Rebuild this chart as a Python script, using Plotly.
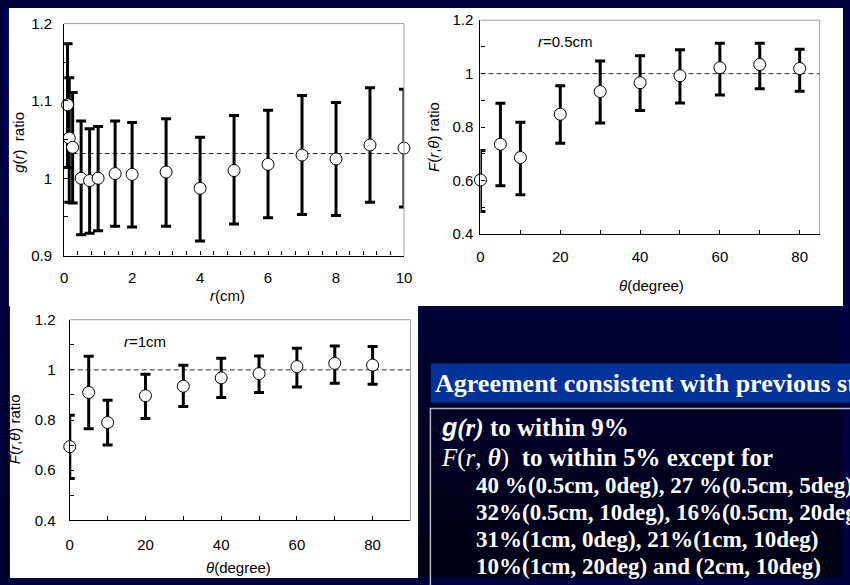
import plotly.graph_objects as go

W, H = 850, 585
def PX(x): return x / W
def PY(y): return 1 - y / H

# ---------------- data ----------------
r_cm = [0.1, 0.15, 0.25, 0.5, 0.75, 1, 1.5, 2, 3, 4, 5, 6, 7, 8, 9, 10]
g_ratio = [1.095, 1.052, 1.040, 1.000, 0.997, 1.000, 1.006, 1.005, 1.008, 0.987, 1.010, 1.018, 1.030, 1.025, 1.043, 1.039]
g_upper = [1.174, 1.130, 1.111, 1.074, 1.064, 1.067, 1.074, 1.072, 1.077, 1.053, 1.081, 1.088, 1.107, 1.098, 1.117, 1.115]
g_lower = [1.014, 0.969, 0.968, 0.927, 0.929, 0.932, 0.938, 0.937, 0.938, 0.919, 0.941, 0.949, 0.953, 0.952, 0.969, 0.963]
g_ref_x = [0.25, 10]
g_ref_y = [1.032, 1.032]

theta_deg = [0, 5, 10, 20, 30, 40, 50, 60, 70, 80]
F05 = [0.602, 0.736, 0.686, 0.848, 0.933, 0.966, 0.992, 1.022, 1.034, 1.019]
F05_upper = [0.712, 0.889, 0.818, 0.955, 1.047, 1.067, 1.089, 1.114, 1.114, 1.091]
F05_lower = [0.484, 0.580, 0.547, 0.739, 0.815, 0.862, 0.890, 0.920, 0.943, 0.934]
F05_ref_x = [0, 85]

F10 = [0.694, 0.910, 0.790, 0.897, 0.935, 0.968, 0.985, 1.013, 1.026, 1.019]
F10_upper = [0.819, 1.054, 0.879, 0.983, 1.018, 1.046, 1.055, 1.086, 1.095, 1.093]
F10_lower = [0.567, 0.765, 0.701, 0.806, 0.854, 0.890, 0.910, 0.932, 0.947, 0.943]
F10_ref_x = [0, 90]
F_ref_y = [1.0, 1.0]

x_titles = ["<i>r</i>(cm)", "<i>θ</i>(degree)", "<i>θ</i>(degree)"]
y_titles = ["<i>g</i>(<i>r</i>)  ratio", "<i>F</i>(<i>r</i>,<i>θ</i>) ratio", "<i>F</i>(<i>r</i>,<i>θ</i>) ratio"]

header = "Agreement consistent with previous studies"
lines_main = [
    "<span style=\"font-family:'Liberation Sans'\"><b><i>g</i></b></span><b><i>(r)</i> to within 9%</b>",
    "<i>F</i>(<i>r</i>, <b><i>θ</i></b>)  <b>to within 5% except for</b>",
]
lines_sub = [
    "<b>40 %(0.5cm, 0deg), 27 %(0.5cm, 5deg),</b>",
    "<b>32%(0.5cm, 10deg), 16%(0.5cm, 20deg),</b>",
    "<b>31%(1cm, 0deg), 21%(1cm, 10deg)</b>",
    "<b>10%(1cm, 20deg) and (2cm, 10deg)</b>",
]

fig = go.Figure()

def add_panel(xs, ys, up, lo, refx, refy, xa, ya):
    fig.add_trace(go.Scatter(x=refx, y=refy, mode="lines", xaxis=xa, yaxis=ya,
                             line=dict(color="#333333", width=1, dash="5px,3px"),
                             hoverinfo="skip", cliponaxis=False))
    fig.add_trace(go.Scatter(
        x=xs, y=ys, mode="markers", xaxis=xa, yaxis=ya, cliponaxis=False,
        marker=dict(symbol="circle", size=12, color="white", line=dict(color="black", width=1)),
        error_y=dict(type="data", symmetric=False,
                     array=[u - v for u, v in zip(up, ys)],
                     arrayminus=[v - l for v, l in zip(ys, lo)],
                     color="black", thickness=3, width=5)))

add_panel(r_cm, g_ratio, g_upper, g_lower, g_ref_x, g_ref_y, "x", "y")
add_panel(theta_deg, F05, F05_upper, F05_lower, F05_ref_x, F_ref_y, "x2", "y2")
add_panel(theta_deg, F10, F10_upper, F10_lower, F10_ref_x, F_ref_y, "x3", "y3")

# ---------------- background ----------------
shapes = []
nb = 40
for i in range(nb):
    t = i / (nb - 1)
    b = int(95 - 75 * t)
    shapes.append(dict(type="rect", xref="paper", yref="paper", layer="below",
                       x0=0, x1=1, y0=1 - (i + 1) / nb, y1=1 - i / nb,
                       fillcolor=f"rgb(0,0,{b})", line=dict(width=0)))
shapes.append(dict(type="rect", xref="paper", yref="paper", layer="below",
                   x0=PX(5), x1=PX(851), y0=PY(306), y1=PY(-1),
                   fillcolor="white", line=dict(width=0)))
shapes.append(dict(type="rect", xref="paper", yref="paper", layer="below",
                   x0=PX(6), x1=PX(420), y0=PY(586), y1=PY(305),
                   fillcolor="white", line=dict(width=0)))
# header bar + text box border
shapes.append(dict(type="rect", xref="paper", yref="paper", layer="below",
                   x0=PX(433), x1=PX(860), y0=PY(405.5), y1=PY(365),
                   fillcolor="rgb(0,51,153)", line=dict(width=0)))
shapes.append(dict(type="rect", xref="paper", yref="paper", layer="below",
                   x0=PX(432.5), x1=PX(870), y0=PY(600), y1=PY(411.5),
                   fillcolor="rgba(0,0,0,0)", line=dict(color="#b8b8b8", width=1.5)))
# gray top/right frame lines
for xa, ya in [("x", "y"), ("x2", "y2"), ("x3", "y3")]:
    shapes.append(dict(type="line", xref=f"{xa} domain", yref=f"{ya} domain",
                       x0=0, x1=1, y0=1, y1=1, line=dict(color="#a0a0a0", width=1)))
    shapes.append(dict(type="line", xref=f"{xa} domain", yref=f"{ya} domain",
                       x0=1, x1=1, y0=0, y1=1, line=dict(color="#a0a0a0", width=1)))

axis_common = dict(showgrid=False, zeroline=False, showline=True, linecolor="black",
                   linewidth=1.3, ticks="inside", ticklen=4, tickwidth=1, tickcolor="black",
                   tickfont=dict(size=15, color="black"), mirror=False)

fig.update_layout(
    width=W, height=H, margin=dict(l=0, r=0, t=0, b=0),
    paper_bgcolor="rgb(0,0,60)", plot_bgcolor="white", showlegend=False,
    font=dict(family="Liberation Sans, Arial, sans-serif", size=15, color="black"),
    shapes=shapes,
    xaxis=dict(axis_common, domain=[PX(61), PX(405.7)], range=[0, 10], dtick=2, tick0=0,
               ticklabelstandoff=8,
               minor=dict(dtick=0.4, tick0=0, ticks="inside", ticklen=4, tickcolor="black", showgrid=False)),
    yaxis=dict(axis_common, domain=[PY(254), PY(15)], range=[0.9, 1.2], dtick=0.1, tick0=0.9,
               ticklabelstandoff=8,
               minor=dict(dtick=0.05, tick0=0.9, ticks="inside", ticklen=4, tickcolor="black", showgrid=False)),
    xaxis2=dict(axis_common, anchor="y2", domain=[PX(483.3), PX(827.3)], range=[0, 85], dtick=20, tick0=0,
                ticklabelstandoff=9,
                minor=dict(dtick=10, tick0=0, ticks="inside", ticklen=4, tickcolor="black", showgrid=False)),
    yaxis2=dict(axis_common, anchor="x2", domain=[PY(231.7), PY(11.5)], range=[0.4, 1.2], dtick=0.2, tick0=0.4,
                ticklabelstandoff=3,
                minor=dict(dtick=0.1, tick0=0.4, ticks="inside", ticklen=4, tickcolor="black", showgrid=False)),
    xaxis3=dict(axis_common, anchor="y3", domain=[PX(66.7), PX(412.3)], range=[0, 90], dtick=20, tick0=0,
                ticklabelstandoff=10,
                minor=dict(dtick=10, tick0=0, ticks="inside", ticklen=4, tickcolor="black", showgrid=False)),
    yaxis3=dict(axis_common, anchor="x3", domain=[PY(526.7), PY(320)], range=[0.4, 1.2], dtick=0.2, tick0=0.4,
                ticklabelstandoff=10,
                minor=dict(dtick=0.1, tick0=0.4, ticks="inside", ticklen=4, tickcolor="black", showgrid=False)),
)

ann = []
# axis titles
for txt, (cx, cy) in zip(x_titles, [(227, 295), (657, 285), (238, 575)]):
    ann.append(dict(text=txt, x=PX(cx), y=PY(cy), xref="paper", yref="paper", showarrow=False,
                    xanchor="center", yanchor="middle", font=dict(size=15, color="black")))
for txt, (cx, cy) in zip(y_titles, [(14, 137), (435, 132), (11, 433)]):
    ann.append(dict(text=txt, x=PX(cx), y=PY(cy), xref="paper", yref="paper", showarrow=False,
                    textangle=-90, xanchor="center", yanchor="middle", font=dict(size=15, color="black")))
# panel labels
ann.append(dict(text="<i>r</i>=0.5cm", x=14, y=1.12, xref="x2", yref="y2", showarrow=False,
                xanchor="left", yanchor="middle", font=dict(size=15, color="black")))
ann.append(dict(text="<i>r</i>=1cm", x=13.9, y=1.115, xref="x3", yref="y3", showarrow=False,
                xanchor="left", yanchor="middle", font=dict(size=15, color="black")))
# text box
serif = "Liberation Serif, Times New Roman, serif"
ann.append(dict(text=f"<b>{header}</b>", x=PX(435), y=PY(386), xref="paper", yref="paper",
                showarrow=False, xanchor="left", yanchor="middle",
                font=dict(family=serif, size=26, color="white")))
for i, (txt, cy) in enumerate(zip(lines_main, [431, 462])):
    ann.append(dict(text=txt, x=PX(441), y=PY(cy), xref="paper", yref="paper",
                    showarrow=False, xanchor="left", yanchor="middle",
                    font=dict(family=serif, size=25, color="white")))
for txt, cy in zip(lines_sub, [490.5, 518.5, 546, 574]):
    ann.append(dict(text=txt, x=PX(477), y=PY(cy), xref="paper", yref="paper",
                    showarrow=False, xanchor="left", yanchor="middle",
                    font=dict(family=serif, size=23, color="white")))
fig.update_layout(annotations=ann)

fig.write_html("out.html")
